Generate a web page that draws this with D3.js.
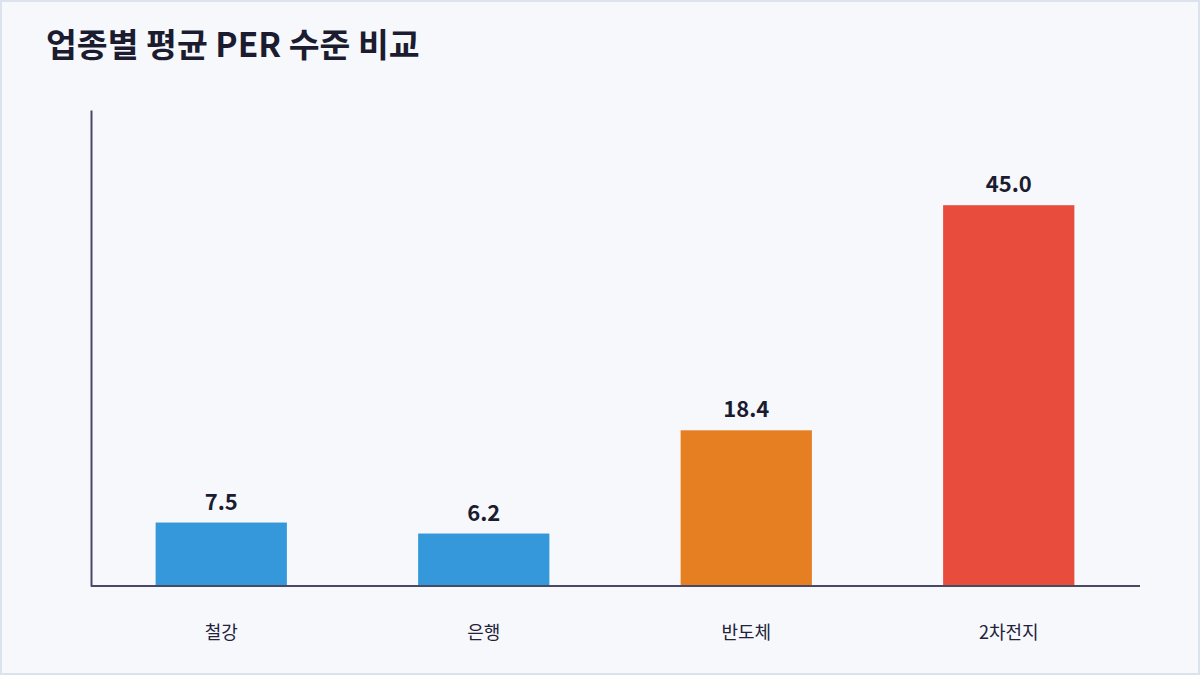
<!DOCTYPE html>
<html>
<head>
<meta charset="utf-8">
<script src="https://cdn.jsdelivr.net/npm/d3@7"></script>
<style>
  html, body { margin: 0; padding: 0; background: #f7f8fc; }
  svg { display: block; font-family: "Noto Sans CJK KR", "Noto Sans", sans-serif; }
</style>
</head>
<body>
<div id="container"></div>
<script>
const categories = ["철강", "은행", "반도체", "2차전지"];
const perValues = [7.5, 6.2, 18.4, 45.0];
const barColors = ["#3498db", "#3498db", "#e67e22", "#e74c3c"];
const chartTitle = "업종별 평균 PER 수준 비교";

const width = 1200;
const height = 675;
const margin = { top: 110, right: 60, bottom: 89, left: 91 };

const svg = d3.select("#container")
  .append("svg")
  .attr("width", width)
  .attr("height", height);

svg.append("rect")
  .attr("x", 1)
  .attr("y", 1)
  .attr("width", width - 2)
  .attr("height", height - 2)
  .attr("fill", "#f7f8fc")
  .attr("stroke", "#dde3ec")
  .attr("stroke-width", 2);

svg.append("text")
  .attr("x", 46)
  .attr("y", 57)
  .attr("font-size", 33.5)
  .attr("font-weight", 700)
  .attr("fill", "#1c1c30")
  .text(chartTitle);

const x = d3.scaleBand()
  .domain(categories)
  .range([margin.left - 1, width - margin.right])
  .paddingInner(0.5)
  .paddingOuter(0.25);

const y = d3.scaleLinear()
  .domain([0, d3.max(perValues) * 1.25])
  .range([height - margin.bottom, margin.top]);

const data = categories.map((c, i) => ({ name: c, value: perValues[i], color: barColors[i] }));

svg.selectAll(".bar")
  .data(data)
  .join("rect")
  .attr("class", "bar")
  .attr("x", (d) => x(d.name))
  .attr("y", (d) => y(d.value))
  .attr("width", x.bandwidth())
  .attr("height", (d) => y(0) - y(d.value))
  .attr("fill", (d) => d.color);

svg.selectAll(".value-label")
  .data(data)
  .join("text")
  .attr("class", "value-label")
  .attr("x", (d) => x(d.name) + x.bandwidth() / 2)
  .attr("y", (d) => y(d.value) - 13)
  .attr("text-anchor", "middle")
  .attr("font-size", 22)
  .attr("font-weight", 700)
  .attr("fill", "#1c1c30")
  .text((d) => d.value.toFixed(1));

// axes
const xAxis = svg.append("g")
  .attr("transform", `translate(0,${y(0)})`)
  .call(d3.axisBottom(x).tickSize(0).tickPadding(40));
xAxis.select(".domain")
  .attr("d", `M${margin.left},0H${width - margin.right}`)
  .attr("stroke", "#4a4867")
  .attr("stroke-width", 2);
xAxis.selectAll(".tick text")
  .attr("font-family", "Noto Sans CJK KR, sans-serif")
  .attr("font-size", 18)
  .attr("fill", "#22223a");

const yAxis = svg.append("g")
  .attr("transform", `translate(${margin.left},0)`)
  .call(d3.axisLeft(y).tickValues([]).tickSize(0));
yAxis.select(".domain")
  .attr("stroke", "#4a4867")
  .attr("stroke-width", 2);
</script>
</body>
</html>
